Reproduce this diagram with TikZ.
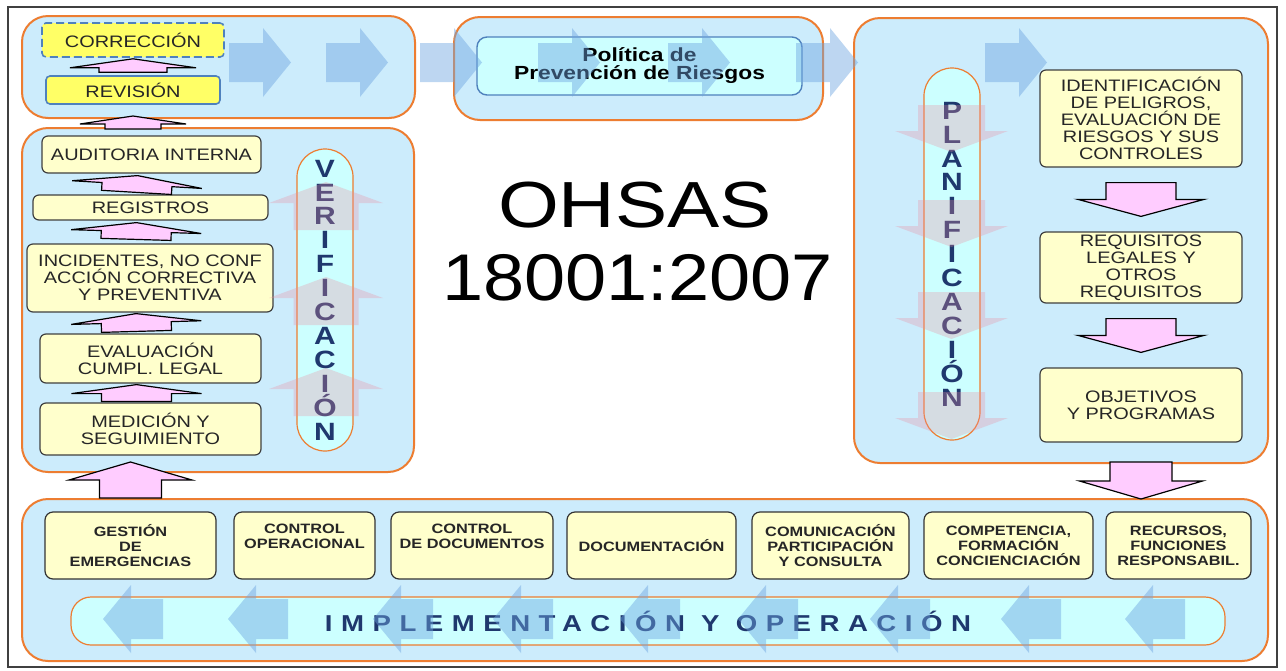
\documentclass[tikz,border=0pt]{standalone}
\usepackage{fontspec}
\setmainfont[FakeStretch=1.2]{Liberation Sans}
\newfontfamily\espaciada[LetterSpace=37,FakeStretch=1.2]{Liberation Sans}
\newfontfamily\normafont[FakeStretch=1.12]{Liberation Sans}
\usetikzlibrary{calc}

\definecolor{celeste}{RGB}{204,236,252}
\definecolor{naranja}{RGB}{237,125,49}
\definecolor{crema}{RGB}{255,255,204}
\definecolor{cian}{RGB}{204,255,255}
\definecolor{amarillo}{RGB}{255,255,102}
\definecolor{azulborde}{RGB}{79,129,189}
\definecolor{rosa}{RGB}{255,204,255}
\definecolor{marino}{RGB}{31,56,110}
\definecolor{gris}{RGB}{64,64,64}
\definecolor{azulf}{RGB}{110,165,225}
\definecolor{rosat}{RGB}{235,140,160}

% flecha de bloque: [estilo]{base}{punta}{largo punta}{media punta}{medio cuerpo}
\newcommand{\bloque}[6][flechar]{%
  \coordinate (bq) at ($#3!#4!#2$);
  \path[#1] ($#2!#6!90:#3$) -- ($(bq)!#6!-90:#2$) -- ($(bq)!#5!-90:#2$) -- #3
    -- ($(bq)!#5!90:#2$) -- ($(bq)!#6!90:#2$) -- ($#2!#6!-90:#3$) -- cycle;
}

\begin{document}
\begin{tikzpicture}[x=0.5pt, y=-0.5pt,
  panel/.style={draw=naranja, line width=1pt, fill=celeste, rounded corners=13pt},
  caja/.style={draw=gris, line width=0.6pt, fill=crema, rounded corners=3pt, inner sep=0pt,
    align=center, text=black!85, font=\fontsize{8.3}{8.5}\selectfont},
  cajab/.style={caja, rounded corners=4pt, draw=black!80, font=\bfseries\fontsize{6.8}{7.5}\selectfont},
  amarilla/.style={draw=azulborde, line width=0.8pt, fill=amarillo, rounded corners=2pt, inner sep=0pt,
    text=black!85, font=\fontsize{8.3}{8.5}\selectfont},
  pilar/.style={draw=naranja, line width=0.6pt, fill=cian, rounded corners=14pt, inner sep=0pt,
    align=center, text=marino, font=\bfseries\fontsize{12.5}{11.95}\selectfont},
  flechar/.style={fill=rosa, draw=black, line width=0.6pt},
  flechaz/.style={fill=azulf, fill opacity=0.45},
  flechat/.style={fill=rosat, fill opacity=0.3}]
\useasboundingbox (0,0) rectangle (1286,670);
\draw[black!75, line width=0.9pt, fill=white] (8,7) rectangle (1277,667);

% paneles
\node[panel, minimum width=196.5pt, minimum height=51pt] (prev) at (218.5,67) {};
\node[panel, minimum width=184.5pt, minimum height=51.5pt] (ppol) at (638.5,68.5) {};
\node[panel, minimum width=207pt, minimum height=222.5pt] (pplan) at (1061,240.5) {};
\node[panel, minimum width=196pt, minimum height=172pt] (pver) at (218,300) {};
\node[panel, minimum width=623pt, minimum height=81pt] (pimp) at (645,580) {};

% revision
\node[amarilla, dash pattern=on 4pt off 2pt, minimum width=91pt, minimum height=17pt] (corr) at (133,40) {CORRECCIÓN};
\node[amarilla, minimum width=87pt, minimum height=14pt] (rev) at (133,90) {REVISIÓN};

% politica
\node[draw=azulborde, line width=0.7pt, fill=cian, rounded corners=5pt, align=center,
  minimum width=162.5pt, minimum height=29pt, font=\bfseries\fontsize{9.5}{9}\selectfont]
  (pol) at (639.5,66) {Política de\\Prevención de Riesgos};

% planificacion
\node[pilar, minimum width=28pt, minimum height=186pt] (plan) at (952,254)
  {P\\L\\A\\N\\I\\F\\I\\C\\A\\C\\I\\Ó\\N};
\node[caja, minimum width=101pt, minimum height=48.5pt] (ident) at (1141,118.5)
  {IDENTIFICACIÓN\\DE PELIGROS,\\EVALUACIÓN DE\\RIESGOS Y SUS\\CONTROLES};
\node[caja, minimum width=101pt, minimum height=35.5pt] (req) at (1141,267.5)
  {REQUISITOS\\LEGALES Y\\OTROS\\REQUISITOS};
\node[caja, minimum width=101pt, minimum height=37pt] (obj) at (1141,405) {OBJETIVOS\\Y PROGRAMAS};

% verificacion
\node[caja, minimum width=109.5pt, minimum height=18.5pt] (aud) at (151.5,154.5) {AUDITORIA INTERNA};
\node[caja, minimum width=117.5pt, minimum height=12.5pt] (reg) at (150.5,207.5) {REGISTROS};
\node[caja, minimum width=123pt, minimum height=34pt] (inc) at (150,278)
  {INCIDENTES, NO CONF\\ACCIÓN CORRECTIVA\\Y PREVENTIVA};
\node[caja, minimum width=110.5pt, minimum height=24.5pt] (eval) at (150.5,358.5) {EVALUACIÓN\\CUMPL. LEGAL};
\node[caja, minimum width=110.5pt, minimum height=26pt] (med) at (150.5,429) {MEDICIÓN Y\\SEGUIMIENTO};
\node[pilar, minimum width=28pt, minimum height=151pt] (ver) at (325,300)
  {V\\E\\R\\I\\F\\I\\C\\A\\C\\I\\Ó\\N};

% implementacion
\node[cajab, minimum width=85.5pt, minimum height=33.5pt] (gest) at (130.5,545.5) {GESTIÓN\\DE\\EMERGENCIAS};
\node[cajab, minimum width=70.5pt, minimum height=33.5pt] (cop) at (304.5,545.5) {CONTROL\\OPERACIONAL\\\strut};
\node[cajab, minimum width=81pt, minimum height=33.5pt] (cdoc) at (472,545.5) {CONTROL\\DE DOCUMENTOS\\\strut};
\node[cajab, minimum width=84.5pt, minimum height=33.5pt] (doc) at (651.5,545.5) {DOCUMENTACIÓN};
\node[cajab, minimum width=78.5pt, minimum height=33.5pt] (com) at (830.5,545.5)
  {COMUNICACIÓN\\PARTICIPACIÓN\\Y CONSULTA};
\node[cajab, minimum width=84.5pt, minimum height=33.5pt] (comp) at (1008.5,545.5)
  {COMPETENCIA,\\FORMACIÓN\\CONCIENCIACIÓN};
\node[cajab, minimum width=72.5pt, minimum height=33.5pt] (rec) at (1178.5,545.5)
  {RECURSOS,\\FUNCIONES\\RESPONSABIL.};
\node[draw=naranja, line width=0.6pt, fill=cian, rounded corners=10pt, minimum width=577pt,
  minimum height=24pt, text=marino, font=\espaciada\bfseries\fontsize{11.5}{12}\selectfont]
  (impl) at (648,621) {IMPLEMENTACIÓN Y OPERACIÓN};

% titulo
\node[anchor=base, font=\fontsize{32.6}{36}\selectfont] (ohsas) at (635,227) {OHSAS};
\node[anchor=base, font=\normafont\fontsize{33}{36}\selectfont] (norma) at (637.5,300) {18001:2007};

% flechas de fondo
\foreach \b in {229,326,420,538,668,796,985}
  \bloque[flechaz]{(\b,62.5)}{(\b+62,62.5)}{14pt}{17.25pt}{9.75pt};
\foreach \t in {103,228,373,493,620,738,870,1001,1125}
  \bloque[flechaz]{(\t+60,619)}{(\t,619)}{14pt}{17pt}{10pt};
\foreach \t in {182,277,368}
  \bloque[flechat]{(326,\t+48)}{(326,\t)}{10.5pt}{28.5pt}{16.25pt};
\foreach \s in {105,200,292,392}
  \bloque[flechat]{(951.5,\s)}{(951.5,\s+47)}{10.5pt}{28.25pt}{16.75pt};

% flechas entre cajas
\bloque{([yshift=1.5pt]rev.north)}{([yshift=-0.5pt]corr.south)}{4.5pt}{31.5pt}{17pt}
\bloque{([yshift=-1pt]rev.south |- pver.north)}{([yshift=1.5pt]rev.south |- prev.south)}{4pt}{26.5pt}{14pt}
\bloque{([xshift=-7pt,yshift=1pt]reg.north)}{([xshift=-7pt,yshift=-1pt]aud.south)}{4.5pt}{32.5pt}{17.5pt}
\bloque{([xshift=-7pt,yshift=2pt]inc.north)}{([xshift=-7pt,yshift=-1pt]reg.south)}{4.5pt}{32.5pt}{17.5pt}
\bloque{([xshift=-7pt,yshift=1pt]eval.north)}{([xshift=-7pt,yshift=-0.5pt]inc.south)}{4.5pt}{32.5pt}{17.5pt}
\bloque{([xshift=-7pt,yshift=0.5pt]med.north)}{([xshift=-7pt,yshift=-0.5pt]eval.south)}{4.5pt}{32.5pt}{17.5pt}
\bloque{(gest.north |- pimp.north)}{([yshift=5.5pt]gest.north |- pver.south)}{9pt}{30.75pt}{15.5pt}
\bloque{([yshift=-7.5pt]ident.south)}{([yshift=7.5pt]req.north)}{8.5pt}{31.5pt}{17.5pt}
\bloque{([yshift=-7.5pt]req.south)}{([yshift=7.5pt]obj.north)}{8.5pt}{31.5pt}{17.5pt}
\bloque{([yshift=1pt]obj.south |- pplan.south)}{([yshift=-0.5pt]obj.south |- pimp.north)}{9pt}{30.75pt}{15.5pt}
\end{tikzpicture}
\end{document}
